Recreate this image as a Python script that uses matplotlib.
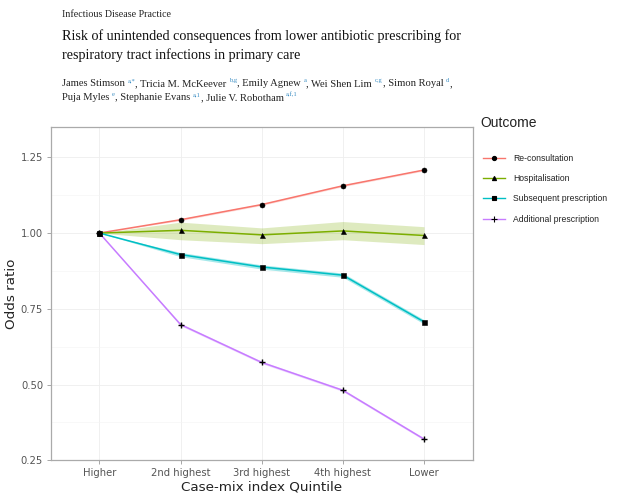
import matplotlib
matplotlib.use("Agg")
import matplotlib.pyplot as plt
from matplotlib.lines import Line2D
import numpy as np

# ---------------- data ----------------
quintiles = ["Higher", "2nd highest", "3rd highest", "4th highest", "Lower"]
outcomes = ["Re-consultation", "Hospitalisation", "Subsequent prescription", "Additional prescription"]

reconsult = [1.000, 1.044, 1.094, 1.156, 1.208]
reconsult_lo = [1.000, 1.041, 1.091, 1.153, 1.205]
reconsult_hi = [1.000, 1.047, 1.097, 1.159, 1.211]

hospital = [1.000, 1.009, 0.994, 1.007, 0.992]
hospital_lo = [1.000, 0.978, 0.965, 0.978, 0.962]
hospital_hi = [1.000, 1.036, 1.017, 1.038, 1.021]

subsequent = [1.000, 0.929, 0.888, 0.861, 0.707]
subsequent_lo = [1.000, 0.922, 0.881, 0.854, 0.700]
subsequent_hi = [1.000, 0.936, 0.895, 0.868, 0.714]

additional = [1.000, 0.698, 0.573, 0.481, 0.320]
additional_lo = [1.000, 0.694, 0.569, 0.477, 0.316]
additional_hi = [1.000, 0.702, 0.577, 0.485, 0.324]

yticks = [0.25, 0.50, 0.75, 1.00, 1.25]
ytick_labels = ["0.25", "0.50", "0.75", "1.00", "1.25"]

header_journal = "Infectious Disease Practice"
title_lines = ["Risk of unintended consequences from lower antibiotic prescribing for",
               "respiratory tract infections in primary care"]
authors_line1 = [("James Stimson ", ""), ("a,*", "s"), (", Tricia M. McKeever ", ""), ("b,g", "s"),
                 (", Emily Agnew ", ""), ("a", "s"), (", Wei Shen Lim ", ""), ("c,g", "s"),
                 (", Simon Royal ", ""), ("d", "s"), (",", "")]
authors_line2 = [("Puja Myles ", ""), ("e", "s"), (", Stephanie Evans ", ""), ("a,1", "s"),
                 (", Julie V. Robotham ", ""), ("a,f,1", "s")]

colors = ["#F8766D", "#7CAE00", "#00BFC4", "#C77CFF"]
markers = ["o", "^", "s", "+"]

# ---------------- figure ----------------
W, H = 617, 496
fig = plt.figure(figsize=(W / 100, H / 100), dpi=100)
fig.patch.set_facecolor("white")

def fx(px):
    return px / W

def fy(py):
    return 1 - py / H

serif = "Liberation Serif"
fig.text(fx(62), fy(17), header_journal, family=serif, fontsize=7.2, color="#222222", va="baseline")
fig.text(fx(62), fy(40), title_lines[0], family=serif, fontsize=10.2, color="#111111", va="baseline")
fig.text(fx(62), fy(59), title_lines[1], family=serif, fontsize=10.2, color="#111111", va="baseline")

renderer = fig.canvas.get_renderer()

def write_runs(x_px, y_px, parts, size):
    x = fx(x_px)
    for txt, kind in parts:
        if kind == "s":
            t = fig.text(x, fy(y_px - 4), txt, family=serif, fontsize=size * 0.62,
                         color="#3D8FC4", va="baseline")
        else:
            t = fig.text(x, fy(y_px), txt, family=serif, fontsize=size, color="#222222",
                         va="baseline")
        bb = t.get_window_extent(renderer=renderer)
        x += bb.width / W

write_runs(62, 86, authors_line1, 7.6)
write_runs(62, 100, authors_line2, 7.6)

# ---------------- axes ----------------
ax = fig.add_axes([fx(50.7), 1 - 460.3 / H, fx(472.7 - 50.7), (460.3 - 127) / H])
x = np.arange(1, len(quintiles) + 1)

series = [
    (reconsult, reconsult_lo, reconsult_hi),
    (hospital, hospital_lo, hospital_hi),
    (subsequent, subsequent_lo, subsequent_hi),
    (additional, additional_lo, additional_hi),
]
band_alpha = [0.25, 0.25, 0.35, 0.3]
for (vals, lo, hi), c, m, ba in zip(series, colors, markers, band_alpha):
    ax.fill_between(x, lo, hi, color=c, alpha=ba, linewidth=0, zorder=2)
    ax.plot(x, vals, color=c, lw=1.1, zorder=3)
    ax.plot(x, vals, linestyle="none", marker=m, color="black",
            markersize=3.6 if m != "+" else 4.5, mew=1.0 if m == "+" else 0.4, zorder=4)

ax.set_xlim(0.4, 5.6)
ax.set_ylim(0.25, 1.35)
ax.set_xticks(x)
ax.set_xticklabels(quintiles)
ax.set_yticks(yticks)
ax.set_yticklabels(ytick_labels)
ax.set_yticks([0.375, 0.625, 0.875, 1.125], minor=True)
ax.tick_params(axis="both", which="major", labelsize=7.2, labelcolor="#555555",
               color="#999999", length=3, width=0.6, pad=2.5)
ax.tick_params(axis="y", which="minor", length=0)
ax.grid(True, which="major", color="#EEEEEE", lw=0.6, zorder=0)
ax.grid(True, which="minor", axis="y", color="#F4F4F4", lw=0.4, zorder=0)
ax.set_axisbelow(True)
for s in ax.spines.values():
    s.set_color("#AAAAAA")
    s.set_linewidth(0.9)

ax.set_xlabel("Case-mix index Quintile", fontsize=9.7, color="#222222", labelpad=2)
ax.set_ylabel("Odds ratio", fontsize=9.7, color="#222222", labelpad=2)

# ---------------- legend ----------------
fig.text(fx(480), fy(123), "Outcome", family="Liberation Sans", fontsize=10,
         color="#222222", va="center")
handles = [Line2D([0], [0], color=c, lw=1.0, marker=m, markerfacecolor="black",
                  markeredgecolor="black", markersize=3 if m != "+" else 4, mew=0.8)
           for c, m in zip(colors, markers)]
fig.legend(handles, outcomes, loc="upper left", bbox_to_anchor=(fx(483), fy(154)),
           bbox_transform=fig.transFigure, frameon=False, prop={"family": "Liberation Sans", "size": 6.2},
           handlelength=2.6, handletextpad=0.9, labelspacing=1.3, borderpad=0, borderaxespad=0,
           labelcolor="#222222")

fig.savefig("out.png", dpi=100)
